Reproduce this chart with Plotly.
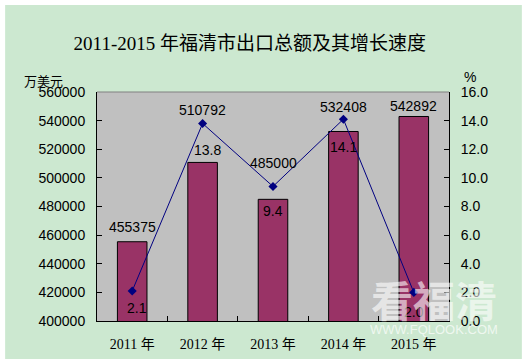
import plotly.graph_objects as go

years = ["2011 年", "2012 年", "2013 年", "2014 年", "2015 年"]
export_total = [455375, 510792, 485000, 532408, 542892]   # 万美元
growth_rate = [2.1, 13.8, 9.4, 14.1, 2.0]                 # %

left_ticks = [400000, 420000, 440000, 460000, 480000, 500000, 520000, 540000, 560000]
right_ticks = [0, 2, 4, 6, 8, 10, 12, 14, 16]

# label placement styles (pixel shifts)
bar_label_ref = ["bar", "line", "line", "line", "bar"]
bar_label_shift = [5, 3, 13, 2, 0]
line_label_shift = [-17, -27, -25, -28, -20]
line_label_xshift = [5, 5, 0, 0, 0]

GREEN = "#CCE8D0"
GRAY = "#C0C0C0"
CJK = "Noto Sans CJK SC"
SERIF = "Liberation Serif, " + CJK
SANS = "Liberation Sans, Arial, " + CJK

fig = go.Figure()
fig.add_trace(go.Bar(
    x=years, y=export_total, marker=dict(color="#993366", line=dict(color="black", width=1)),
    yaxis="y", showlegend=False, hoverinfo="skip"))
fig.add_trace(go.Scatter(
    x=years, y=growth_rate, mode="lines+markers", yaxis="y2",
    line=dict(color="#000080", width=1),
    marker=dict(symbol="diamond", size=7, color="#000080"),
    showlegend=False, hoverinfo="skip"))

annotations = []
for i, yr in enumerate(years):
    ref = "y" if bar_label_ref[i] == "bar" else "y2"
    yv = export_total[i] if bar_label_ref[i] == "bar" else growth_rate[i]
    annotations.append(dict(x=yr, y=yv, xref="x", yref=ref,
                            text=str(export_total[i]), showarrow=False,
                            yshift=bar_label_shift[i], yanchor="bottom",
                            font=dict(family=SANS, size=14, color="black")))
    annotations.append(dict(x=yr, y=growth_rate[i], xref="x", yref="y2",
                            text=f"{growth_rate[i]:.1f}", showarrow=False,
                            yshift=line_label_shift[i], xshift=line_label_xshift[i],
                            yanchor="middle",
                            font=dict(family=SANS, size=14, color="black")))

annotations += [
    dict(x=-0.153, y=1.052, xref="paper", yref="paper", text="万美元", showarrow=False,
         xanchor="center", yanchor="middle", font=dict(family=CJK, size=13, color="black")),
    dict(x=1.06, y=1.065, xref="paper", yref="paper", text="%", showarrow=False,
         xanchor="center", yanchor="middle", font=dict(family=SANS, size=14, color="black")),
    dict(x=0.957, y=0.10, xref="paper", yref="paper", text="<b>看福清</b>", showarrow=False,
         xanchor="center", yanchor="middle",
         font=dict(family=CJK, size=42, color="rgba(255,255,255,0.6)")),
    dict(x=0.957, y=-0.039, xref="paper", yref="paper", text="WWW.FQLOOK.COM", showarrow=False,
         xanchor="center", yanchor="middle",
         font=dict(family=SANS, size=13, color="rgba(255,255,255,0.7)")),
]

shapes = [
    dict(type="rect", xref="paper", yref="paper", x0=-0.261, x1=1.207, y0=-0.166, y1=1.380,
         fillcolor=GREEN, line=dict(width=0), layer="below"),
    dict(type="rect", xref="paper", yref="paper", x0=0, x1=1, y0=0, y1=1,
         fillcolor=GRAY, line=dict(width=0), layer="below"),
    dict(type="line", xref="paper", yref="paper", x0=0, x1=1, y0=1, y1=1,
         line=dict(color="#808080", width=1), layer="above"),
]

fig.update_layout(
    width=527, height=364,
    margin=dict(l=97, r=78, t=92, b=43),
    paper_bgcolor="white", plot_bgcolor="rgba(0,0,0,0)",
    bargap=0.58,
    title=dict(text="2011-2015 年福清市出口总额及其增长速度", xref="container", yref="container",
               x=0.474, y=0.882, xanchor="center", yanchor="middle",
               font=dict(family=SERIF, size=19, color="black")),
    xaxis=dict(showline=True, linecolor="black", linewidth=1, ticks="inside", ticklen=5,
               tickcolor="black", tickson="boundaries", showgrid=False, zeroline=False,
               ticklabelstandoff=10, automargin=False,
               tickfont=dict(family=SERIF, size=14, color="black")),
    yaxis=dict(range=[400000, 560000], tickvals=left_ticks, ticktext=[str(v) for v in left_ticks],
               showline=True, linecolor="black", linewidth=1, ticks="inside", ticklen=5,
               tickcolor="black", showgrid=False, zeroline=False, ticklabelstandoff=8,
               automargin=False,
               tickfont=dict(family=SANS, size=14, color="black")),
    yaxis2=dict(range=[0, 16], tickvals=right_ticks, ticktext=[f"{v:.1f}" for v in right_ticks],
                overlaying="y", side="right",
                showline=True, linecolor="black", linewidth=1, ticks="inside", ticklen=5,
                tickcolor="black", showgrid=False, zeroline=False, ticklabelstandoff=8,
                automargin=False,
                tickfont=dict(family=SANS, size=14, color="black")),
    annotations=annotations, shapes=shapes,
)

fig.write_html("out.html", config={"displayModeBar": False},
               post_script="document.body.style.margin='0';")
